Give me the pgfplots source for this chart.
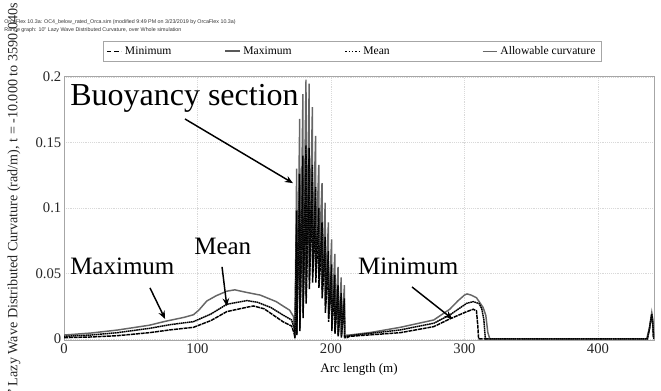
\documentclass[border=0pt]{standalone}
\usepackage{fontspec}
\setmainfont{Liberation Serif}
\newfontfamily\arial{Liberation Sans}
\usepackage{pgfplots}
\pgfplotsset{compat=1.18}
\usetikzlibrary{arrows.meta}
\begin{document}
\begin{tikzpicture}
\begin{axis}[
  at={(0,0)}, anchor=south west,
  scale only axis, width=442.5pt, height=198pt,
  xmin=0, xmax=442, ymin=-0.0008, ymax=0.2008,
  xtick={0,100,200,300,400},
  ytick={0,0.05,0.1,0.15,0.2},
  scaled y ticks=false,
  yticklabel style={/pgf/number format/fixed,/pgf/number format/precision=2},
  /pgf/number format/assume math mode=true,
  tick label style={font=\fontsize{11}{13}\selectfont, text=black!85},
  xticklabel style={yshift=1pt},
  yticklabel style={xshift=1.5pt},
  major tick length=0pt,
  grid=major,
  major grid style={gray!30, densely dotted, line width=0.6pt},
  axis line style={gray!70},
  xlabel={Arc length (m)},
  xlabel style={font=\fontsize{9.75}{11}\selectfont, yshift=-1pt},
  legend columns=4,
  legend style={at={(0.0661,1.053)}, anchor=south west, draw=gray!70,
    font=\fontsize{8.7}{10}\selectfont, inner ysep=2pt, inner xsep=2pt,
    /tikz/every even column/.append style={column sep=37.5pt}},
  legend cell align=left,
  legend image code/.code={\draw[#1] (0pt,0pt) -- (11pt,0pt);},
]
% Minimum
\addplot[forget plot, black, line width=1.1pt, dash pattern=on 3pt off 0.6pt] coordinates {
(0,0.001) (20,0.0015) (40,0.0025) (64,0.0048) (80,0.007) (97,0.0089) (110,0.014) (122,0.0209) (137,0.0242) (142,0.0252) (150,0.023) (164,0.0132) (170.5,0.0099) (172.5,0.004) (173,0.0005)
(174.3,0.085) (174.4,0.003) (176.6,0.108) (176.7,0.006) (179,0.121) (179.1,0.016) (181.3,0.129) (181.4,0.027) (183.7,0.127) (183.8,0.038) (186.1,0.115) (186.2,0.043) (188.5,0.1) (188.6,0.043) (190.9,0.086) (191,0.039) (193.3,0.077) (193.4,0.031) (195.7,0.067) (195.8,0.02) (198.1,0.057) (198.2,0.013) (200.5,0.049) (200.6,0.006) (202.9,0.042) (203,0.004) (205.3,0.036) (205.4,0.002) (207.7,0.031) (207.8,0.001) (210.1,0.027) (210.2,0.001) (212,0.001)
(214,0.002) (252,0.0048) (277,0.0094) (289,0.0153) (301.6,0.0208) (306.6,0.0227) (309,0.0215) (310,0.01) (310.6,0) (437,0) (438.5,0.007) (440.3,0.018) (441,0.013) (441.6,0.002) (442,0)
};
% Maximum
\addplot[forget plot, black!60, line width=1.1pt] coordinates {
(0,0.003) (20,0.0045) (40,0.0068) (64,0.0105) (76,0.0135) (90,0.0165) (97,0.0185) (101,0.022) (107,0.029) (114,0.033) (122,0.0365) (128,0.0375) (137,0.0355) (147,0.0335) (159,0.0285) (164,0.0252) (169,0.022) (172,0.017) (173,0.002)
(174.3,0.13) (174.4,0.005) (176.6,0.168) (176.7,0.01) (179,0.187) (179.1,0.025) (181.3,0.198) (181.4,0.04) (183.7,0.195) (183.8,0.055) (186.1,0.177) (186.2,0.06) (188.5,0.155) (188.6,0.06) (190.9,0.133) (191,0.055) (193.3,0.119) (193.4,0.045) (195.7,0.104) (195.8,0.03) (198.1,0.089) (198.2,0.02) (200.5,0.076) (200.6,0.01) (202.9,0.065) (203,0.006) (205.3,0.055) (205.4,0.004) (207.7,0.047) (207.8,0.003) (210.1,0.041) (210.2,0.002) (212,0.003)
(214,0.003) (230,0.005) (252,0.0089) (277,0.0145) (289,0.0227) (295,0.029) (300,0.0335) (302,0.0344) (305,0.0335) (309,0.0315) (312,0.027) (314,0.024) (316,0.018) (317.5,0.005) (319,0) (436.5,0) (438.5,0.008) (440.3,0.02) (441,0.015) (441.6,0.002) (442,0)
};
% Mean
\addplot[forget plot, black, line width=1.1pt, dash pattern=on 1.2pt off 0.4pt] coordinates {
(0,0.002) (20,0.003) (40,0.0048) (64,0.0081) (80,0.011) (97,0.0132) (110,0.019) (122,0.0265) (137,0.0293) (145,0.028) (155,0.024) (164,0.0183) (170.5,0.0145) (172.5,0.008) (173,0.001)
(174.3,0.098) (174.4,0.004) (176.6,0.126) (176.7,0.008) (179,0.14) (179.1,0.02) (181.3,0.148) (181.4,0.033) (183.7,0.146) (183.8,0.045) (186.1,0.133) (186.2,0.05) (188.5,0.116) (188.6,0.05) (190.9,0.1) (191,0.046) (193.3,0.089) (193.4,0.037) (195.7,0.078) (195.8,0.025) (198.1,0.067) (198.2,0.016) (200.5,0.057) (200.6,0.008) (202.9,0.049) (203,0.005) (205.3,0.041) (205.4,0.003) (207.7,0.035) (207.8,0.002) (210.1,0.031) (210.2,0.0015) (212,0.002)
(214,0.0025) (252,0.0069) (277,0.012) (289,0.0183) (301.6,0.0272) (306.6,0.0285) (311,0.027) (313,0.023) (314.5,0.015) (315.5,0.002) (316,0) (437,0) (438.5,0.0075) (440.3,0.019) (441,0.014) (441.6,0.002) (442,0)
};
\addlegendimage{black, line width=1.3pt, dash pattern=on 3.5pt off 2pt}
\addlegendentry{Minimum}
\addlegendimage{black!65, line width=1.5pt}
\addlegendentry{Maximum}
\addlegendimage{black, line width=1.2pt, dash pattern=on 1.2pt off 1.3pt}
\addlegendentry{Mean\rule{30pt}{0pt}}
\addlegendimage{black!60, line width=0.5pt}
\addlegendentry{Allowable curvature}
% annotations
\node[anchor=base west, inner sep=0pt, font=\fontsize{24}{28}\selectfont] at (axis cs:4.5,0.1786) {Buoyancy section};
\node[anchor=base west, inner sep=0pt, font=\fontsize{18.75}{22}\selectfont] at (axis cs:4.5,0.0489) {Maximum};
\node[anchor=base west, inner sep=0pt, font=\fontsize{18.75}{22}\selectfont] at (axis cs:97.4,0.0646) {Mean};
\node[anchor=base west, inner sep=0pt, font=\fontsize{18.75}{22}\selectfont] at (axis cs:220.2,0.0494) {Minimum};
\draw[-{Stealth[length=6pt,width=5pt]}, line width=1.1pt] (axis cs:90.6,0.168) -- (axis cs:171.5,0.119);
\draw[-{Stealth[length=6pt,width=5pt]}, line width=1.1pt] (axis cs:64.4,0.039) -- (axis cs:75.7,0.0153);
\draw[-{Stealth[length=6pt,width=5pt]}, line width=1.1pt] (axis cs:118.4,0.055) -- (axis cs:122,0.025);
\draw[-{Stealth[length=6pt,width=5pt]}, line width=1.1pt] (axis cs:260.7,0.0397) -- (axis cs:291,0.0153);
\end{axis}
\node[anchor=base west, inner sep=0pt, font=\arial\fontsize{4}{5}\selectfont, text=black!80] at (-45pt,237pt) {OrcaFlex 10.3a: OC4\_below\_rated\_Orca.sim (modified 9:49 PM on 3/23/2019 by OrcaFlex 10.3a)};
\node[anchor=base west, inner sep=0pt, font=\arial\fontsize{4}{5}\selectfont, text=black!80] at (-45pt,231pt) {Range graph: 10" Lazy Wave Distributed Curvature, over Whole simulation};
\node[rotate=90, anchor=east, inner sep=0pt, font=\fontsize{10.6}{12}\selectfont, text=black!85] at (-37.5pt,252.75pt) {10" Lazy Wave Distributed Curvature (rad/m), t = -10.000 to 3590.040s};
\pgfresetboundingbox
\path[use as bounding box] (-48pt,-37.5pt) rectangle (447.75pt,255pt);
\end{tikzpicture}
\end{document}
